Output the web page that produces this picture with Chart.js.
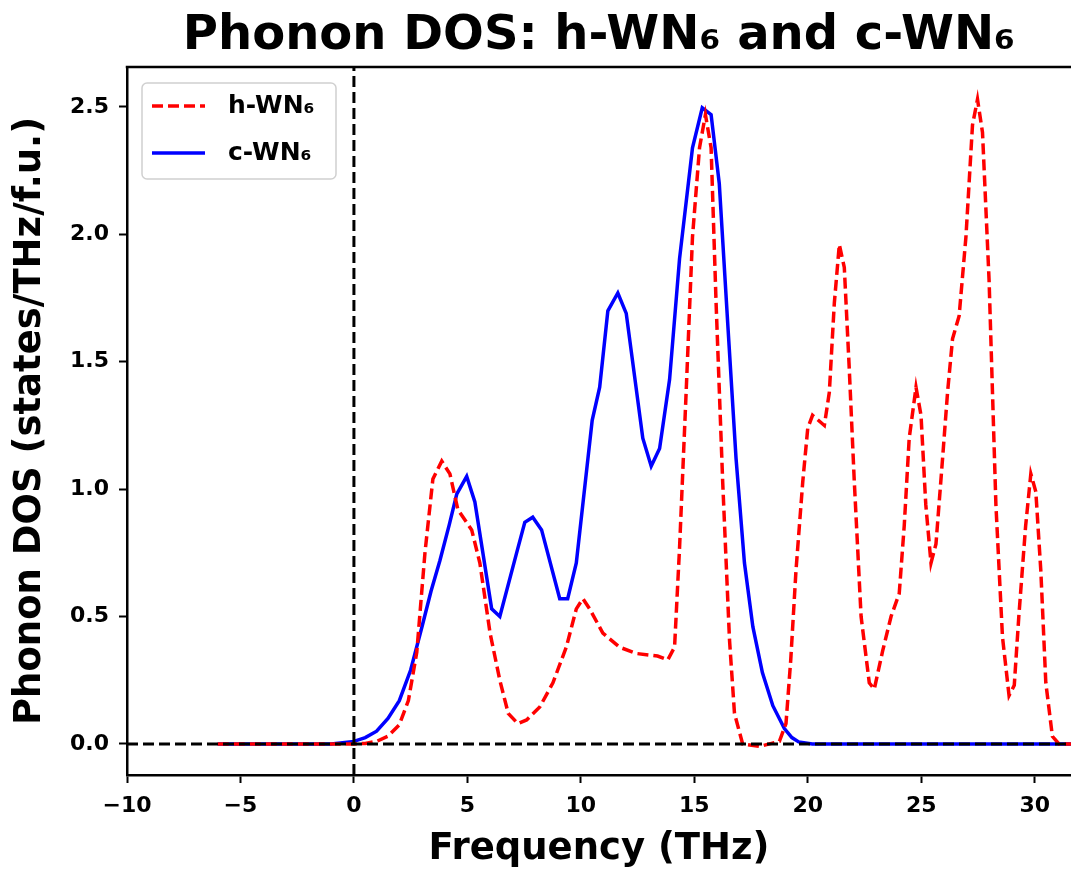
<!DOCTYPE html>
<html>
<head>
<meta charset="utf-8">
<script src="https://cdn.jsdelivr.net/npm/chart.js@4.4.1/dist/chart.umd.min.js"></script>
<style>
  body { margin: 0; background: #fff; }
  #wrap { width: 1071px; height: 875px; }
</style>
</head>
<body>
<div id="wrap"><canvas id="dosChart" width="1071" height="875"></canvas></div>
<script>
// h-WN6 (red dashed)
const hFreq = [-6, -1, 0, 0.5, 1.0, 1.5, 2.0, 2.4, 2.77, 3.13, 3.48, 3.87, 4.23, 4.58, 5.19, 5.55, 6.0, 6.43, 6.8, 7.22, 7.61, 8.19, 8.77, 9.36, 9.8, 10.09, 10.39, 10.97, 11.7, 12.44, 13.38, 13.83, 14.13, 14.35, 14.64, 14.92, 15.23, 15.49, 15.74, 15.96, 16.25, 16.55, 16.77, 17.13, 17.87, 18.75, 19.04, 19.25, 19.48, 19.78, 20.0, 20.21, 20.73, 20.95, 21.17, 21.39, 21.61, 21.83, 22.05, 22.35, 22.71, 22.93, 23.3, 23.67, 24.03, 24.25, 24.47, 24.77, 24.99, 25.2, 25.43, 25.65, 25.94, 26.16, 26.38, 26.67, 26.97, 27.26, 27.48, 27.7, 27.99, 28.29, 28.58, 28.87, 29.1, 29.3, 29.6, 29.83, 30.05, 30.27, 30.49, 30.78, 31.07, 31.6];
const hDos  = [0, 0, 0, 0.002, 0.01, 0.03, 0.075, 0.17, 0.36, 0.75, 1.04, 1.11, 1.06, 0.92, 0.84, 0.71, 0.435, 0.25, 0.12, 0.08, 0.094, 0.145, 0.24, 0.38, 0.53, 0.57, 0.53, 0.435, 0.38, 0.355, 0.345, 0.33, 0.38, 0.77, 1.38, 1.99, 2.34, 2.47, 2.34, 1.73, 1.03, 0.41, 0.12, 0, -0.01, 0.01, 0.08, 0.33, 0.68, 1.03, 1.24, 1.29, 1.25, 1.38, 1.73, 1.96, 1.87, 1.47, 1.03, 0.50, 0.24, 0.215, 0.365, 0.50, 0.59, 0.855, 1.20, 1.40, 1.29, 0.94, 0.71, 0.785, 1.12, 1.38, 1.59, 1.68, 1.99, 2.43, 2.53, 2.40, 1.82, 0.94, 0.42, 0.19, 0.23, 0.50, 0.855, 1.06, 0.99, 0.68, 0.24, 0.03, 0, 0];

// c-WN6 (blue solid)
const cFreq = [-6, -1, 0, 0.5, 1.0, 1.5, 2.0, 2.5, 3.0, 3.4, 3.79, 4.2, 4.53, 4.97, 5.33, 6.07, 6.43, 7.17, 7.53, 7.88, 8.27, 9.07, 9.42, 9.8, 10.5, 10.83, 11.19, 11.63, 12.0, 12.73, 13.1, 13.47, 13.91, 14.35, 14.92, 15.35, 15.74, 16.1, 16.48, 16.84, 17.21, 17.58, 18.0, 18.46, 18.97, 19.3, 19.6, 20.2, 31.6];
const cDos  = [0, 0, 0.01, 0.025, 0.05, 0.1, 0.17, 0.29, 0.46, 0.6, 0.72, 0.86, 0.98, 1.05, 0.95, 0.53, 0.50, 0.75, 0.87, 0.89, 0.84, 0.57, 0.57, 0.71, 1.27, 1.40, 1.70, 1.77, 1.69, 1.20, 1.09, 1.16, 1.43, 1.905, 2.34, 2.497, 2.47, 2.20, 1.64, 1.12, 0.71, 0.46, 0.28, 0.15, 0.06, 0.025, 0.008, 0, 0];

const seriesLabels = ['h-WN\u2086', 'c-WN\u2086'];
const xTicks = [-10, -5, 0, 5, 10, 15, 20, 25, 30];
const yTicks = [0, 0.5, 1.0, 1.5, 2.0, 2.5];
const xRange = [-10, 31.6];
const yRange = [-0.122, 2.657];

const font = 'DejaVu Sans';

function pts(xs, ys) {
  return xs.map((x, i) => ({ x: x, y: ys[i] }));
}

// top spine + legend box like matplotlib
const framePlugin = {
  id: 'frame',
  afterDraw(chart) {
    const ctx = chart.ctx;
    const a = chart.chartArea;
    ctx.save();
    ctx.strokeStyle = '#000';
    ctx.lineWidth = 2.5;
    ctx.beginPath();
    ctx.moveTo(a.left - 1.25, a.top);
    ctx.lineTo(a.right, a.top);
    ctx.stroke();

    // legend
    const bx = a.left + 15, by = a.top + 16, bw = 194, bh = 96;
    ctx.fillStyle = 'rgba(255,255,255,0.8)';
    ctx.strokeStyle = '#d0d0d0';
    ctx.lineWidth = 1.5;
    ctx.beginPath();
    ctx.roundRect(bx, by, bw, bh, 5);
    ctx.fill();
    ctx.stroke();

    const items = chart.data.datasets.filter(d => d.showInLegend);
    items.forEach((d, i) => {
      const y = by + 23 + i * 47;
      ctx.strokeStyle = d.borderColor;
      ctx.lineWidth = d.borderWidth;
      ctx.setLineDash(d.borderDash || []);
      ctx.beginPath();
      ctx.moveTo(bx + 10, y);
      ctx.lineTo(bx + 63, y);
      ctx.stroke();
      ctx.setLineDash([]);
      ctx.fillStyle = '#000';
      ctx.font = 'bold 25px "' + font + '"';
      ctx.textBaseline = 'middle';
      ctx.textAlign = 'left';
      ctx.fillText(d.label, bx + 86, y);
    });
    ctx.restore();
  }
};

const ctx = document.getElementById('dosChart');

new Chart(ctx, {
  type: 'line',
  data: {
    datasets: [
      {
        label: 'zero-x',
        data: [{ x: xRange[0], y: 0 }, { x: xRange[1], y: 0 }],
        borderColor: '#000',
        borderWidth: 3,
        borderDash: [11, 5],
        pointRadius: 0,
        order: 0
      },
      {
        label: 'zero-y',
        data: [{ x: 0, y: yRange[0] }, { x: 0, y: yRange[1] }],
        borderColor: '#000',
        borderWidth: 3,
        borderDash: [11, 5],
        pointRadius: 0,
        order: 0
      },
      {
        label: seriesLabels[0],
        data: pts(hFreq, hDos),
        borderColor: '#ff0000',
        borderWidth: 3.5,
        borderDash: [11, 5],
        pointRadius: 0,
        tension: 0,
        showInLegend: true,
        order: 1
      },
      {
        label: seriesLabels[1],
        data: pts(cFreq, cDos),
        borderColor: '#0000ff',
        borderWidth: 3.5,
        pointRadius: 0,
        tension: 0,
        showInLegend: true,
        order: 2
      }
    ]
  },
  options: {
    responsive: false,
    animation: false,
    layout: { padding: { left: 0, right: 0, top: 0, bottom: 0 } },
    plugins: {
      legend: { display: false },
      tooltip: { enabled: false },
      title: {
        display: true,
        fullSize: false,
        text: 'Phonon DOS: h-WN\u2086 and c-WN\u2086',
        color: '#000',
        font: { family: font, size: 48, weight: 'bold' },
        padding: { top: 8, bottom: 1.4 }
      }
    },
    scales: {
      x: {
        type: 'linear',
        min: xRange[0],
        max: xRange[1],
        afterBuildTicks: axis => { axis.ticks = xTicks.map(v => ({ value: v })); },
        afterFit: axis => { axis.height = 100; },
        border: { display: true, color: '#000', width: 2.5 },
        grid: { drawOnChartArea: false, drawTicks: true, tickLength: 8, tickColor: '#000', tickWidth: 2 },
        ticks: {
          color: '#000',
          padding: 10,
          maxRotation: 0,
          font: { family: font, size: 22, weight: 'bold' },
          callback: v => v < 0 ? '\u2212' + Math.abs(v) : String(v)
        },
        title: {
          display: true,
          text: 'Frequency (THz)',
          color: '#000',
          font: { family: font, size: 37, weight: 'bold' },
          padding: { top: 0, bottom: 3 }
        }
      },
      y: {
        type: 'linear',
        min: yRange[0],
        max: yRange[1],
        afterBuildTicks: axis => { axis.ticks = yTicks.map(v => ({ value: v })); },
        afterFit: axis => { axis.width = 127; },
        border: { display: true, color: '#000', width: 2.5 },
        grid: { drawOnChartArea: false, drawTicks: true, tickLength: 8, tickColor: '#000', tickWidth: 2 },
        ticks: {
          color: '#000',
          padding: 10,
          font: { family: font, size: 22, weight: 'bold' },
          callback: v => v.toFixed(1)
        },
        title: {
          display: true,
          text: 'Phonon DOS (states/THz/f.u.)',
          color: '#000',
          font: { family: font, size: 37, weight: 'bold' },
          padding: { top: 8, bottom: 0 }
        }
      }
    }
  },
  plugins: [framePlugin]
});
</script>
</body>
</html>
